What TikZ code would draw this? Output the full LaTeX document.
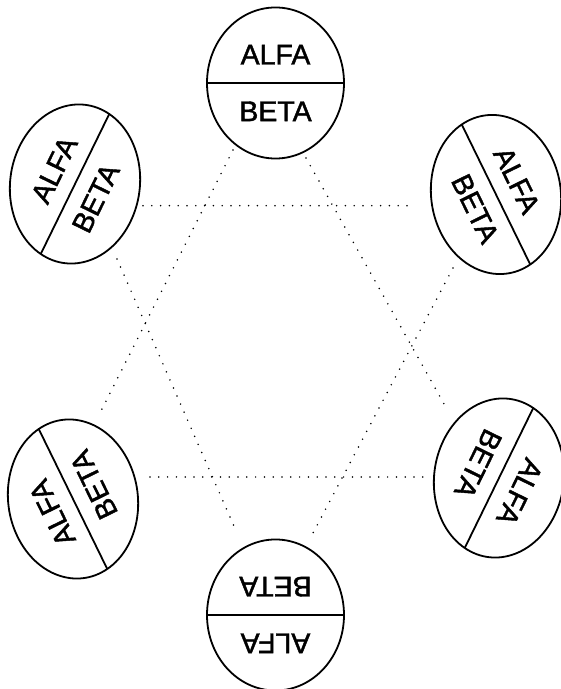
\documentclass[tikz,border=0pt]{standalone}
\usepackage{fontspec}
\setmainfont{Liberation Sans}[FakeBold=1.5]
\tikzset{
  ovalline/.style={line width=1.8pt},
  lbl/.style={inner sep=0pt, font=\fontsize{28.5}{28.5}\selectfont},
  dotline/.style={line width=1.7pt, line cap=round, dash pattern=on 0pt off 8.8pt}
}
\newcommand{\myoval}[4]{%
  \coordinate (#1) at (#2,#3);
  \begin{scope}[shift={(#1)}, yscale=1.18, rotate=#4]
    \draw[ovalline] (0,0) ellipse [x radius=68.5, y radius=64];
    \draw[ovalline] (-68.5,0) -- (68.5,0);
    \pgfmathsetmacro{\txtang}{atan2(1.18*sin(#4), cos(#4))}
    \node[lbl, rotate=\txtang] (#1-a) at (0,24) {ALFA};
    \node[lbl, rotate=\txtang] (#1-b) at (0,-24) {BETA};
  \end{scope}}
\begin{document}
\begin{tikzpicture}[x=1pt, y=1pt]
  \useasboundingbox (0,0) rectangle (561,689);
  % ovals (y = 689 - pixel y)
  \myoval{top}{275.5}{606}{0}
  \myoval{ul}{75}{505}{60}
  \myoval{ll}{73}{190}{120}
  \myoval{bot}{275.5}{74}{180}
  \myoval{lr}{499}{211}{240}
  \myoval{ur}{496}{494.5}{300}
  % dotted line ends
  \coordinate (h1a) at (143,483.3);
  \coordinate (h1b) at (412,483.3);
  \coordinate (h2a) at (150,212);
  \coordinate (h2b) at (423,212);
  \coordinate (d1a) at (233,539);
  \coordinate (d1b) at (101,278);
  \coordinate (d2a) at (306,531);
  \coordinate (d2b) at (448,278);
  \coordinate (d3a) at (117,430);
  \coordinate (d3b) at (237,156);
  \coordinate (d4a) at (453,421);
  \coordinate (d4b) at (313,156);
  \draw[dotline] (h1a) -- (h1b);
  \draw[dotline] (h2a) -- (h2b);
  \draw[dotline] (d1a) -- (d1b);
  \draw[dotline] (d2a) -- (d2b);
  \draw[dotline] (d3a) -- (d3b);
  \draw[dotline] (d4a) -- (d4b);
\end{tikzpicture}
\end{document}
